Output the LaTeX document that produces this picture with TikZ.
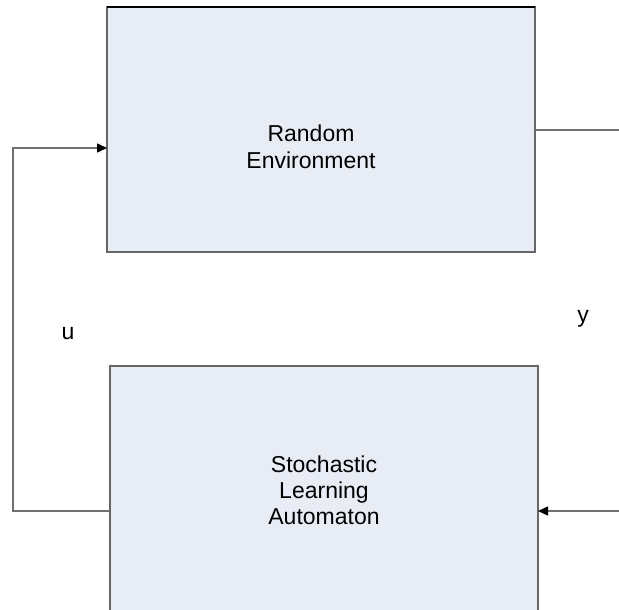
\documentclass[tikz,border=0pt]{standalone}
\usepackage{fontspec}
\setmainfont{Liberation Sans}
\usetikzlibrary{arrows.meta}
\definecolor{boxfill}{HTML}{E8ECF5}
\definecolor{edge}{HTML}{666666}
\definecolor{wire}{HTML}{707070}
\tikzset{
  block/.style={draw=edge, line width=1.5pt, fill=boxfill, inner sep=0pt, outer sep=0pt},
  caption/.style={font=\fontsize{23}{26}\selectfont, align=center, inner sep=0pt},
  sig/.style={font=\fontsize{23}{26}\selectfont, inner sep=0pt, anchor=base},
  wireline/.style={draw=wire, line width=1.4pt},
  flow/.style={wireline, -{Triangle[length=10pt, width=9pt, fill=black, color=black]}}
}
\begin{document}
\begin{tikzpicture}[x=1pt, y=-1pt]
  \useasboundingbox (0,0) rectangle (619,610);
  \clip (0,0) rectangle (619,610);
  % the two blocks
  \node[block, minimum width=428pt, minimum height=245pt] (env) at (321,129.5) {};
  \node[block, minimum width=428pt, minimum height=254pt] (sla) at (324,493) {};
  \draw[black, line width=1.5pt] (env.north west) -- (env.north east);
  \node[caption] (envtxt) at (311,147) {Random\\[1pt]Environment};
  \node[caption] (slatxt) at (324,490) {Stochastic\\Learning\\Automaton};
  % free ends and corner of the loop
  \coordinate (outR) at (619,130);
  \coordinate (inR) at (619,511);
  \coordinate (fbLow) at (13,511);
  \coordinate (fbHigh) at (13,148);
  % connectors
  \draw[wireline] (env.east |- outR) -- (outR);
  \draw[flow] (inR) -- (sla.east |- inR);
  \draw[flow] (sla.west |- fbLow) -- (fbLow) -- (fbHigh) -- (env.west |- fbHigh);
  % signal labels
  \node[sig] (ulab) at (68,339) {u};
  \node[sig] (ylab) at (583,322) {y};
\end{tikzpicture}
\end{document}
